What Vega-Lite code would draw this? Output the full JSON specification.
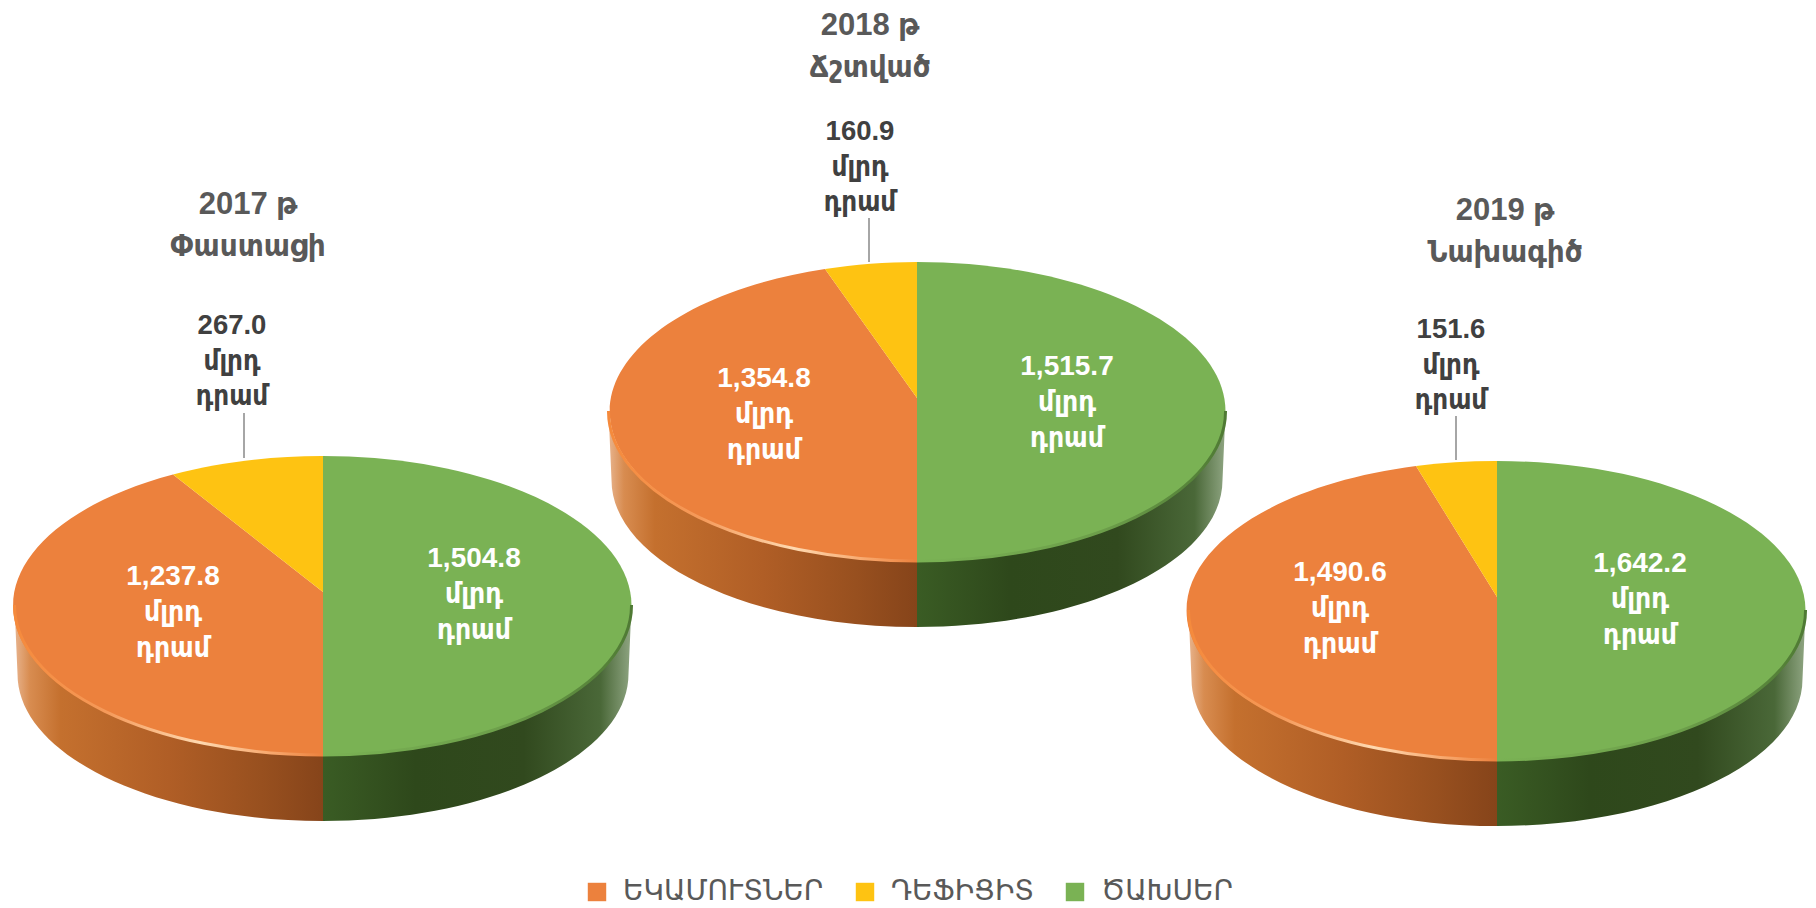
{
"$schema":"https://vega.github.io/schema/vega-lite/v6.json",
"width":1816,"height":908,"padding":0,"autosize":"none","background":"white",
"config":{"view":{"stroke":null},"text":{"font":"Liberation Sans, DejaVu Sans Condensed, DejaVu Sans"}},
"datasets":{
"slices":[
{"year":2017,"series":"ԵԿԱՄՈՒՏՆԵՐ","value":1237.8,"slice":"2017 ԵԿԱՄՈՒՏՆԵՐ","label":["1,237.8","մլրդ","դրամ"]},
{"year":2017,"series":"ԴԵՖԻՑԻՏ","value":267.0,"slice":"2017 ԴԵՖԻՑԻՏ","label":["267.0","մլրդ","դրամ"]},
{"year":2017,"series":"ԾԱԽՍԵՐ","value":1504.8,"slice":"2017 ԾԱԽՍԵՐ","label":["1,504.8","մլրդ","դրամ"]},
{"year":2018,"series":"ԵԿԱՄՈՒՏՆԵՐ","value":1354.8,"slice":"2018 ԵԿԱՄՈՒՏՆԵՐ","label":["1,354.8","մլրդ","դրամ"]},
{"year":2018,"series":"ԴԵՖԻՑԻՏ","value":160.9,"slice":"2018 ԴԵՖԻՑԻՏ","label":["160.9","մլրդ","դրամ"]},
{"year":2018,"series":"ԾԱԽՍԵՐ","value":1515.7,"slice":"2018 ԾԱԽՍԵՐ","label":["1,515.7","մլրդ","դրամ"]},
{"year":2019,"series":"ԵԿԱՄՈՒՏՆԵՐ","value":1490.6,"slice":"2019 ԵԿԱՄՈՒՏՆԵՐ","label":["1,490.6","մլրդ","դրամ"]},
{"year":2019,"series":"ԴԵՖԻՑԻՏ","value":151.6,"slice":"2019 ԴԵՖԻՑԻՏ","label":["151.6","մլրդ","դրամ"]},
{"year":2019,"series":"ԾԱԽՍԵՐ","value":1642.2,"slice":"2019 ԾԱԽՍԵՐ","label":["1,642.2","մլրդ","դրամ"]}
],
"titles":[
{"year":2017,"title":["2017 թ","Փաստացի"]},
{"year":2018,"title":["2018 թ","Ճշտված"]},
{"year":2019,"title":["2019 թ","Նախագիծ"]}
]},
"layer":[
{"data":{"name":"slices"},"transform":[{"filter":"datum.series==='ԵԿԱՄՈՒՏՆԵՐ'"}],
"mark":{"type":"point","filled":true,"size":4,"opacity":1,"shape":"M-308.5 13L-305.5 82A305.5 147 0 0 0 0 229L0 163A308.5 149.5 0 0 1 -308.5 13Z",
"fill":{"gradient":"linear","x1":0,"y1":0,"x2":1,"y2":0,"stops":[{"offset":0,"color":"#E8B48E"},{"offset":0.05,"color":"#D88C50"},{"offset":0.15,"color":"#C4702E"},{"offset":0.5,"color":"#B05E26"},{"offset":0.8,"color":"#98501F"},{"offset":1,"color":"#86441A"}]}},
"encoding":{"x":{"field":"year","type":"quantitative","axis":null,"scale":{"domain":[2017,2018,2019],"range":[323,917,1497],"zero":false,"nice":false}},"y":{"field":"year","type":"quantitative","axis":null,"scale":{"domain":[2017,2018,2019],"range":[592,398,597],"zero":false,"nice":false}}}},
{"data":{"name":"slices"},"transform":[{"filter":"datum.series==='ԾԱԽՍԵՐ'"}],
"mark":{"type":"point","filled":true,"size":4,"opacity":1,"shape":"M0 163L0 229A305.5 147 0 0 0 305.5 82L308.5 13A308.5 149.5 0 0 1 0 163Z",
"fill":{"gradient":"linear","x1":0,"y1":0,"x2":1,"y2":0,"stops":[{"offset":0,"color":"#3A5C24"},{"offset":0.3,"color":"#2E481B"},{"offset":0.65,"color":"#31491E"},{"offset":0.9,"color":"#4A6838"},{"offset":1,"color":"#8FA582"}]}},
"encoding":{"x":{"field":"year","type":"quantitative","axis":null,"scale":{"domain":[2017,2018,2019],"range":[323,917,1497],"zero":false,"nice":false}},"y":{"field":"year","type":"quantitative","axis":null,"scale":{"domain":[2017,2018,2019],"range":[592,398,597],"zero":false,"nice":false}}}},
{"data":{"name":"slices"},
"mark":{"type":"point","filled":true,"size":4,"opacity":1},
"encoding":{"x":{"field":"year","type":"quantitative","axis":null,"scale":{"domain":[2017,2018,2019],"range":[323,917,1497],"zero":false,"nice":false}},"y":{"field":"year","type":"quantitative","axis":null,"scale":{"domain":[2017,2018,2019],"range":[592,398,597],"zero":false,"nice":false}},
"shape":{"field":"slice","type":"nominal","legend":null,"scale":{"domain":["2017 ԵԿԱՄՈՒՏՆԵՐ","2017 ԴԵՖԻՑԻՏ","2017 ԾԱԽՍԵՐ","2018 ԵԿԱՄՈՒՏՆԵՐ","2018 ԴԵՖԻՑԻՏ","2018 ԾԱԽՍԵՐ","2019 ԵԿԱՄՈՒՏՆԵՐ","2019 ԴԵՖԻՑԻՏ","2019 ԾԱԽՍԵՐ"],"range":[
"M0 163A308.5 149.5 0 0 1 -150 -117.5L0 0Z","M-150 -117.5A308.5 149.5 0 0 1 0 -136L0 0Z","M0 -136A308.5 149.5 0 0 1 0 163L0 0Z",
"M0 163A308.5 149.5 0 0 1 -92 -129L0 0Z","M-92 -129A308.5 149.5 0 0 1 0 -136L0 0Z","M0 -136A308.5 149.5 0 0 1 0 163L0 0Z",
"M0 163A308.5 149.5 0 0 1 -81 -131L0 0Z","M-81 -131A308.5 149.5 0 0 1 0 -136L0 0Z","M0 -136A308.5 149.5 0 0 1 0 163L0 0Z"]}},
"fill":{"field":"series","type":"nominal","sort":["ԵԿԱՄՈՒՏՆԵՐ","ԴԵՖԻՑԻՏ","ԾԱԽՍԵՐ"],"scale":{"domain":["ԵԿԱՄՈՒՏՆԵՐ","ԴԵՖԻՑԻՏ","ԾԱԽՍԵՐ"],"range":["#EC813D","#FEC312","#7AB254"]},
"legend":{"orient":"none","legendX":583,"legendY":878,"direction":"horizontal","title":null,"symbolType":"square","symbolSize":340,"symbolStrokeWidth":0,"labelFont":"DejaVu Sans","labelFontSize":28,"labelLimit":400,"labelColor":"#595959","labelOffset":12,"columnPadding":27,"symbolOpacity":1}}}},
{"data":{"name":"slices"},"transform":[{"filter":"datum.series==='ԵԿԱՄՈՒՏՆԵՐ'"}],
"mark":{"type":"point","filled":false,"size":4,"opacity":1,"strokeWidth":3,"shape":"M-308.5 13A308.5 149.5 0 0 0 0 163",
"stroke":{"gradient":"linear","x1":0,"y1":0,"x2":1,"y2":0,"stops":[{"offset":0,"color":"#F58A3C"},{"offset":0.3,"color":"#F59A5A"},{"offset":0.6,"color":"#FFD9B0"},{"offset":0.85,"color":"#F7A468"},{"offset":1,"color":"#EC813D"}]}},
"encoding":{"x":{"field":"year","type":"quantitative","axis":null,"scale":{"domain":[2017,2018,2019],"range":[323,917,1497],"zero":false,"nice":false}},"y":{"field":"year","type":"quantitative","axis":null,"scale":{"domain":[2017,2018,2019],"range":[592,398,597],"zero":false,"nice":false}}}},
{"data":{"name":"slices"},"transform":[{"filter":"datum.series==='ԾԱԽՍԵՐ'"}],
"mark":{"type":"point","filled":false,"size":4,"opacity":1,"strokeWidth":3,"shape":"M308.5 13A308.5 149.5 0 0 1 0 163",
"stroke":{"gradient":"linear","x1":0,"y1":0,"x2":1,"y2":0,"stops":[{"offset":0,"color":"#7AB254"},{"offset":0.6,"color":"#6C9E4A"},{"offset":1,"color":"#4F7A34"}]}},
"encoding":{"x":{"field":"year","type":"quantitative","axis":null,"scale":{"domain":[2017,2018,2019],"range":[323,917,1497],"zero":false,"nice":false}},"y":{"field":"year","type":"quantitative","axis":null,"scale":{"domain":[2017,2018,2019],"range":[592,398,597],"zero":false,"nice":false}}}},
{"data":{"name":"slices"},"transform":[{"filter":"datum.series==='ԴԵՖԻՑԻՏ'"}],
"mark":{"type":"point","filled":false,"size":4,"opacity":1,"strokeWidth":2,"stroke":"#A6A6A6"},
"encoding":{"x":{"field":"year","type":"quantitative","axis":null,"scale":{"domain":[2017,2018,2019],"range":[244,869,1456],"zero":false,"nice":false}},"y":{"field":"year","type":"quantitative","axis":null,"scale":{"domain":[2017,2018,2019],"range":[458,262,460],"zero":false,"nice":false}},
"shape":{"field":"year","type":"nominal","legend":null,"scale":{"domain":[2017,2018,2019],"range":["M0 -45L0 0","M0 -44L0 0","M0 -44L0 0"]}}}},
{"data":{"name":"slices"},"transform":[{"filter":"datum.series==='ԵԿԱՄՈՒՏՆԵՐ'"}],
"mark":{"type":"text","align":"center","baseline":"alphabetic","fontSize":28,"fontWeight":"bold","lineHeight":36,"color":"white"},
"encoding":{"x":{"field":"year","type":"quantitative","axis":null,"scale":{"domain":[2017,2018,2019],"range":[173,764,1340],"zero":false,"nice":false}},"y":{"field":"year","type":"quantitative","axis":null,"scale":{"domain":[2017,2018,2019],"range":[585,387,581],"zero":false,"nice":false}},"text":{"field":"label","type":"nominal"}}},
{"data":{"name":"slices"},"transform":[{"filter":"datum.series==='ԾԱԽՍԵՐ'"}],
"mark":{"type":"text","align":"center","baseline":"alphabetic","fontSize":28,"fontWeight":"bold","lineHeight":36,"color":"white"},
"encoding":{"x":{"field":"year","type":"quantitative","axis":null,"scale":{"domain":[2017,2018,2019],"range":[474,1067,1640],"zero":false,"nice":false}},"y":{"field":"year","type":"quantitative","axis":null,"scale":{"domain":[2017,2018,2019],"range":[567,375,572],"zero":false,"nice":false}},"text":{"field":"label","type":"nominal"}}},
{"data":{"name":"slices"},"transform":[{"filter":"datum.series==='ԴԵՖԻՑԻՏ'"}],
"mark":{"type":"text","align":"center","baseline":"alphabetic","fontSize":27.5,"fontWeight":"bold","lineHeight":35.5,"color":"#404040"},
"encoding":{"x":{"field":"year","type":"quantitative","axis":null,"scale":{"domain":[2017,2018,2019],"range":[232,860,1451],"zero":false,"nice":false}},"y":{"field":"year","type":"quantitative","axis":null,"scale":{"domain":[2017,2018,2019],"range":[334,140,338],"zero":false,"nice":false}},"text":{"field":"label","type":"nominal"}}},
{"data":{"name":"titles"},
"mark":{"type":"text","align":"center","baseline":"alphabetic","fontSize":31,"fontWeight":"bold","lineHeight":42,"color":"#595959"},
"encoding":{"x":{"field":"year","type":"quantitative","axis":null,"scale":{"domain":[2017,2018,2019],"range":[248,870,1505],"zero":false,"nice":false}},"y":{"field":"year","type":"quantitative","axis":null,"scale":{"domain":[2017,2018,2019],"range":[214,35,220],"zero":false,"nice":false}},"text":{"field":"title","type":"nominal"}}}
],
"resolve":{"scale":{"x":"independent","y":"independent","shape":"independent"}}
}
